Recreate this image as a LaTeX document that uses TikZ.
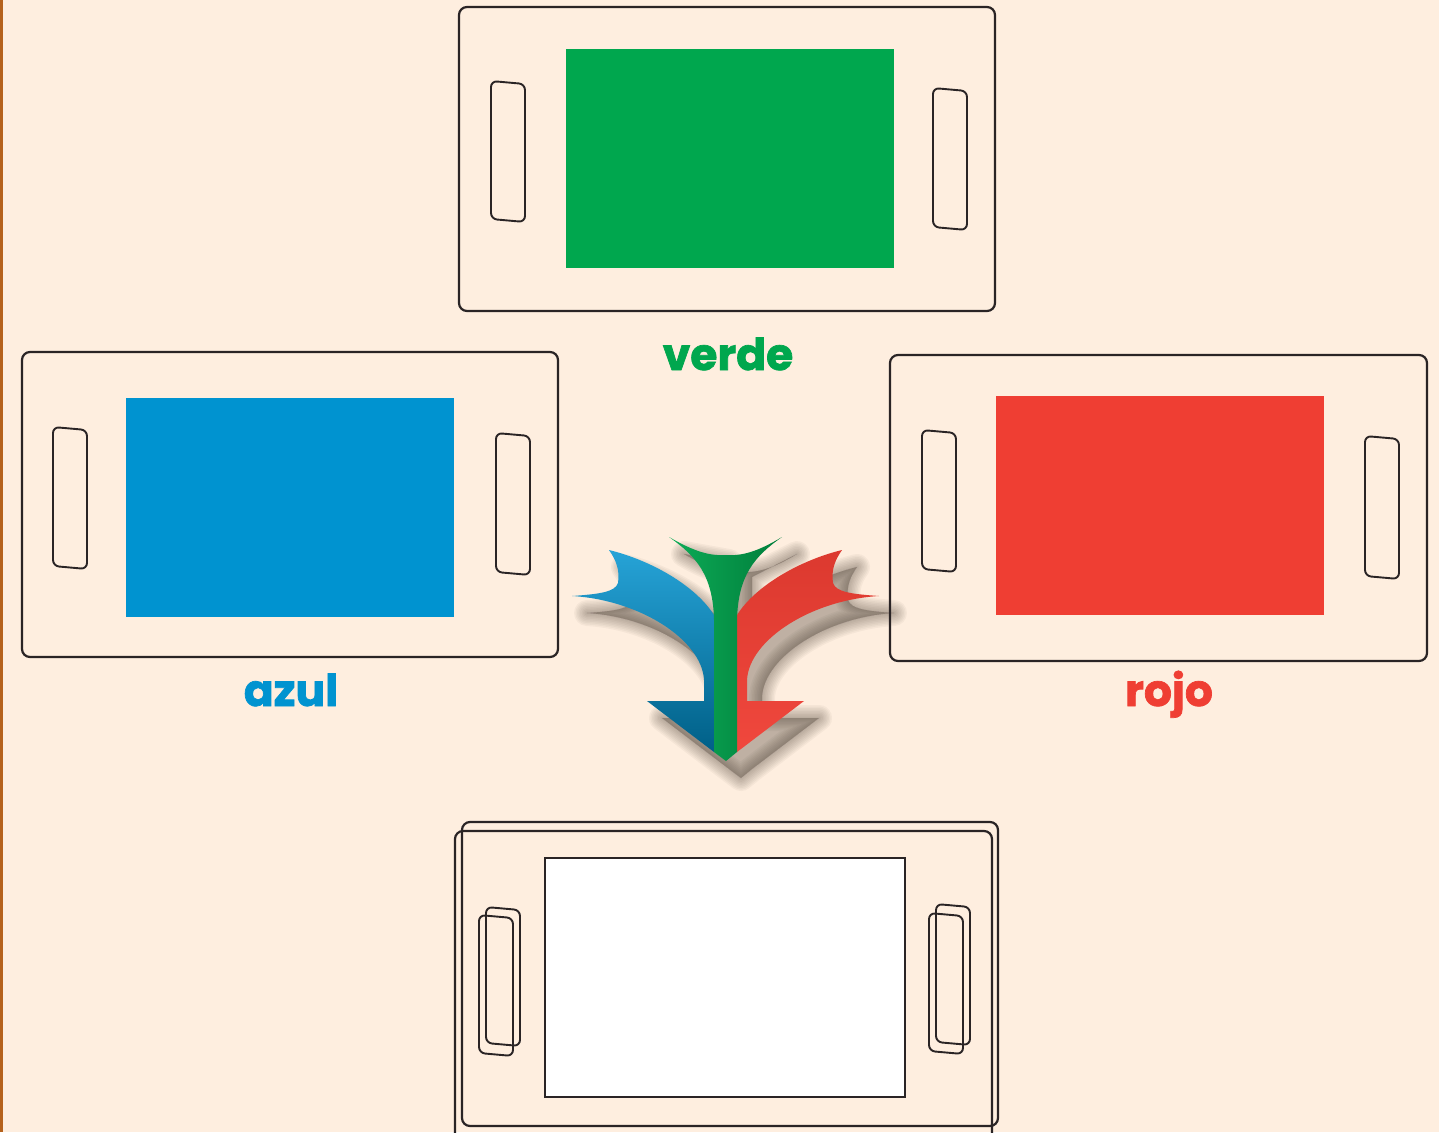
\documentclass[tikz,border=0pt]{standalone}
\usepackage{fontspec}
\newfontfamily\lblfont{Poppins}[BoldFeatures={FakeBold=1.6}]

\definecolor{bgc}{HTML}{FEEEDF}
\definecolor{edgebrown}{HTML}{B5611C}
\definecolor{ink}{HTML}{2A2425}
\definecolor{cgreen}{HTML}{00A74E}
\definecolor{cblue}{HTML}{0093D0}
\definecolor{cred}{HTML}{EF3E33}
\definecolor{shadowc}{HTML}{3A2E25}

\tikzset{
  frameline/.style={draw=ink, line width=2.2pt, rounded corners=8pt},
  handleline/.style={draw=ink, line width=1.9pt, rounded corners=6pt},
  lbl/.style={font=\lblfont\bfseries\fontsize{44}{44}\selectfont, anchor=base, inner sep=0pt},
}

% a tray: outer rounded frame
\newcommand\trayframe[4]{\draw[frameline] (#1,#2) rectangle (#3,#4);}
% a slanted handle slot: top-left corner, height
\newcommand\handlebox[3]{\draw[handleline] (#1,#2) -- ++(34,3) -- ++(0,#3) -- ++(-34,-3) -- cycle;}

% silhouette of the merging arrow
\def\arrowoutline{(609,550) .. controls (650,560) and (695,585) .. (714,615)
  -- (714,545) -- (669,537) .. controls (695,552) and (710,556) .. (726,555)
  .. controls (742,556) and (757,552) .. (782,537)
  -- (737,560) -- (737,615) .. controls (756,585) and (801,560) .. (842,550)
  .. controls (835,560) and (831,570) .. (833,583)
  .. controls (836,592) and (851,594) .. (879,596)
  .. controls (811,600) and (749,640) .. (747,680) -- (747,701) -- (804,701)
  -- (737,752) -- (726,761) -- (714,752) -- (647,701) -- (704,701) -- (704,680)
  .. controls (702,640) and (640,600) .. (572,596)
  .. controls (600,594) and (615,592) .. (618,583)
  .. controls (620,570) and (616,560) .. (609,550) -- cycle}

\begin{document}
\begin{tikzpicture}[x=1pt,y=-1pt]
\useasboundingbox (0,0) rectangle (1439,1132);
\clip (0,0) rectangle (1439,1132);
\fill[bgc] (0,0) rectangle (1439,1132);
\fill[edgebrown] (0,0) rectangle (3,1132);

% green tray
\trayframe{459}{7}{995}{311}
\fill[cgreen] (566,49) rectangle (894,268);
\handlebox{491}{81}{138}
\handlebox{933}{88}{139}
\node[lbl, text=cgreen] (verde) at (728,370) {verde};

% blue tray
\trayframe{22}{352}{558}{657}
\fill[cblue] (126,398) rectangle (454,617);
\handlebox{53}{427}{139}
\handlebox{496}{433}{139}
\node[lbl, text=cblue] (azul) at (291,706) {azul};

% red tray
\trayframe{890}{355}{1427}{661}
\fill[cred] (996,396) rectangle (1324,615);
\handlebox{922}{430}{139}
\handlebox{1365}{436}{140}
\node[lbl, text=cred] (rojo) at (1169,706) {rojo};

% mixed tray (two stacked frames)
\trayframe{462}{822}{998}{1126}
\trayframe{455}{831}{992}{1150}
\fill[white] (545,858) rectangle (905,1097);
\draw[ink, line width=2.8pt] (545,858) rectangle (905,1097);
\handlebox{486}{907}{136}
\handlebox{479}{915}{138}
\handlebox{936}{904}{138}
\handlebox{929}{913}{138}

% soft shadow of the arrow, built from stacked translucent layers
\foreach \w in {26,23,20,17,14,11,8,5,2} {
  \filldraw[shift={(15,17)}, draw=shadowc, fill=shadowc, line width=\w pt,
    line join=round, draw opacity=0.045, fill opacity=0.04] \arrowoutline;
}

% blue branch
\shade[top color=cblue!85!white, middle color=cblue, bottom color=cblue!65!black]
  (609,550) .. controls (650,560) and (695,585) .. (714,615)
  -- (714,752) -- (647,701) -- (704,701) -- (704,680)
  .. controls (702,640) and (640,600) .. (572,596)
  .. controls (600,594) and (615,592) .. (618,583)
  .. controls (620,570) and (616,560) .. (609,550) -- cycle;

% red branch
\shade[top color=cred!92!black, middle color=cred, bottom color=cred!95!white]
  (842,550) .. controls (801,560) and (756,585) .. (737,615)
  -- (737,752) -- (804,701) -- (747,701) -- (747,680)
  .. controls (749,640) and (811,600) .. (879,596)
  .. controls (851,594) and (836,592) .. (833,583)
  .. controls (831,570) and (835,560) .. (842,550) -- cycle;

% green stem
\shade[left color=cgreen!95!white, right color=cgreen!75!black]
  (669,537) .. controls (695,552) and (710,556) .. (726,555)
  .. controls (742,556) and (757,552) .. (782,537)
  .. controls (755,556) and (738,575) .. (737,620)
  -- (737,752) -- (726,761) -- (714,752) -- (714,620)
  .. controls (713,575) and (696,556) .. (669,537) -- cycle;
\end{tikzpicture}
\end{document}
